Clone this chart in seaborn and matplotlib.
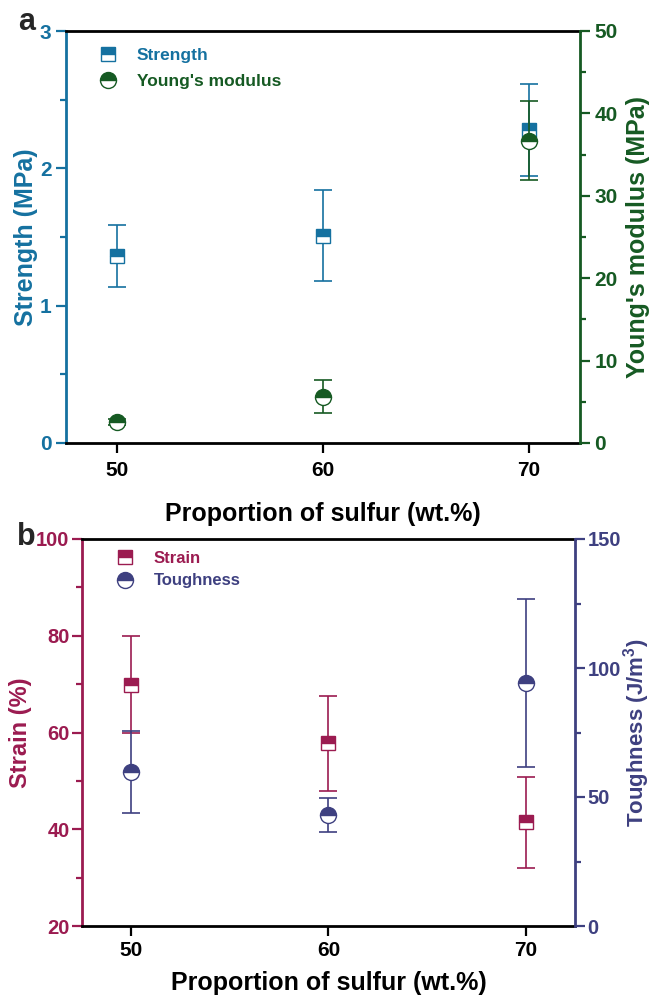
import matplotlib
matplotlib.use("Agg")
import matplotlib.pyplot as plt
import seaborn as sns
import pandas as pd
from matplotlib.lines import Line2D
from matplotlib.ticker import MultipleLocator

# ---------------- data ----------------
sulfur = [50, 60, 70]
strength = [1.36, 1.51, 2.28]
strength_err = [0.225, 0.33, 0.335]
modulus = [2.55, 5.6, 36.7]
modulus_err = [0.35, 2.0, 4.8]
strain = [69.9, 57.8, 41.4]
strain_err = [10.0, 9.8, 9.5]
toughness = [59.6, 43.2, 94.2]
toughness_err = [15.8, 6.6, 32.5]
xticks = [50, 60, 70]

BLUE = "#1571A0"
GREEN = "#165A23"
MAROON = "#9B1B50"
NAVY = "#3E4080"

sns.set_style("ticks")
plt.rcParams["font.family"] = ["Liberation Sans", "DejaVu Sans"]
plt.rcParams["font.weight"] = "bold"
plt.rcParams["axes.labelweight"] = "bold"
plt.rcParams["mathtext.fontset"] = "custom"
plt.rcParams["mathtext.bf"] = "Liberation Sans:bold"
plt.rcParams["mathtext.rm"] = "Liberation Sans:bold"

fig = plt.figure(figsize=(6.51, 9.99), dpi=100)
W, H = 651.0, 999.0


def add_axes(l, r, t, b):
    return fig.add_axes([l / W, 1 - b / H, (r - l) / W, (b - t) / H])


def series(ax, x, y, err, color, marker, ms):
    df = pd.DataFrame({"x": x, "y": y})
    ax.errorbar(x, y, yerr=err, fmt="none", ecolor=color, elinewidth=1.2,
                capsize=6.5, capthick=1.2, zorder=2)
    sns.lineplot(data=df, x="x", y="y", ax=ax, color=color, marker=marker,
                 markersize=ms, linestyle="", fillstyle="top",
                 markerfacecolor=color, markerfacecoloralt="white",
                 markeredgecolor=color, markeredgewidth=1.0, zorder=3,
                 errorbar=None)


def style_axes(ax, ax2, lcol, rcol, xpad, xlabelpad, ypad, ysize):
    for a in (ax, ax2):
        a.set_xlim(47.5, 72.5)
        a.set_xticks(xticks)
    ax.spines["right"].set_visible(False)
    for s in ("left", "top", "bottom"):
        ax2.spines[s].set_visible(False)
    ax.spines["left"].set_color(lcol)
    ax2.spines["right"].set_color(rcol)
    for s in ("left", "top", "bottom"):
        ax.spines[s].set_linewidth(2.0)
    ax.spines["top"].set_color("black")
    ax.spines["bottom"].set_color("black")
    ax2.spines["right"].set_linewidth(2.0)
    ax.tick_params(axis="y", which="both", colors=lcol, direction="out",
                   width=1.6, labelsize=ysize, left=True, pad=ypad)
    ax.tick_params(axis="y", which="major", length=7)
    ax.tick_params(axis="y", which="minor", length=4)
    ax.tick_params(axis="x", colors="black", direction="out", length=7,
                   width=1.6, labelsize=15, top=False, pad=xpad)
    ax2.tick_params(axis="y", which="both", colors=rcol, direction="out",
                    width=1.6, labelsize=ysize, right=True, pad=ypad)
    ax2.tick_params(axis="y", which="major", length=7)
    ax2.tick_params(axis="y", which="minor", length=4)
    ax2.tick_params(axis="x", which="both", bottom=False, top=False,
                    labelbottom=False)
    for lab in ax.get_xticklabels() + ax.get_yticklabels() + ax2.get_yticklabels():
        lab.set_fontweight("bold")
    ax.set_xlabel("Proportion of sulfur (wt.%)", fontsize=18,
                  fontweight="bold", color="black", labelpad=xlabelpad)
    ax2.set_xlabel("")


# ---------------- panel a ----------------
axa = add_axes(66, 580, 31, 443)
axa2 = axa.twinx()
series(axa, sulfur, strength, strength_err, BLUE, "s", 10)
series(axa2, sulfur, modulus, modulus_err, GREEN, "o", 11.5)
axa.set_ylim(0, 3)
axa.yaxis.set_major_locator(MultipleLocator(1))
axa.yaxis.set_minor_locator(MultipleLocator(0.5))
axa2.set_ylim(0, 50)
axa2.yaxis.set_major_locator(MultipleLocator(10))
axa2.yaxis.set_minor_locator(MultipleLocator(5))
style_axes(axa, axa2, BLUE, GREEN, xpad=6, xlabelpad=16, ypad=3.5, ysize=15)
axa.set_ylabel("Strength (MPa)", fontsize=18, color=BLUE, labelpad=1)
axa2.set_ylabel("Young's modulus (MPa)", fontsize=18, color=GREEN, labelpad=6)

ha = [Line2D([], [], color=BLUE, marker="s", markersize=10, linestyle="",
             fillstyle="top", markerfacecoloralt="white"),
      Line2D([], [], color=GREEN, marker="o", markersize=11.5, linestyle="",
             fillstyle="top", markerfacecoloralt="white")]
axa2.legend(ha, ["Strength", "Young's modulus"], loc="upper left",
            bbox_to_anchor=(0.035, 0.997), frameon=False,
            handlelength=1.0, handletextpad=1.15, labelspacing=0.6,
            prop={"size": 12.5, "weight": "bold"},
            labelcolor=[BLUE, GREEN])

# ---------------- panel b ----------------
axb = add_axes(82, 575, 539, 926)
axb2 = axb.twinx()
series(axb, sulfur, strain, strain_err, MAROON, "s", 10)
series(axb2, sulfur, toughness, toughness_err, NAVY, "o", 11.5)
axb.set_ylim(20, 100)
axb.yaxis.set_major_locator(MultipleLocator(20))
axb.yaxis.set_minor_locator(MultipleLocator(10))
axb2.set_ylim(0, 150)
axb2.yaxis.set_major_locator(MultipleLocator(50))
axb2.yaxis.set_minor_locator(MultipleLocator(25))
style_axes(axb, axb2, MAROON, NAVY, xpad=4, xlabelpad=8, ypad=2, ysize=14.5)
axb.set_ylabel("Strain (%)", fontsize=17, color=MAROON, labelpad=3)
axb2.set_ylabel("Toughness (J/m$^{3}$)", fontsize=16, color=NAVY,
                labelpad=0)

hb = [Line2D([], [], color=MAROON, marker="s", markersize=10, linestyle="",
             fillstyle="top", markerfacecoloralt="white"),
      Line2D([], [], color=NAVY, marker="o", markersize=11.5, linestyle="",
             fillstyle="top", markerfacecoloralt="white")]
axb2.legend(hb, ["Strain", "Toughness"], loc="upper left",
            bbox_to_anchor=(0.04, 1.008), frameon=False,
            handlelength=1.0, handletextpad=1.2, labelspacing=0.45,
            prop={"size": 12, "weight": "bold"},
            labelcolor=[MAROON, NAVY])

fig.text(27 / W, 1 - 22 / H, "a", fontsize=22, fontweight="bold",
         ha="center", va="center")
fig.text(26 / W, 1 - 537 / H, "b", fontsize=22, fontweight="bold",
         ha="center", va="center")

fig.savefig("out.png", dpi=100)
